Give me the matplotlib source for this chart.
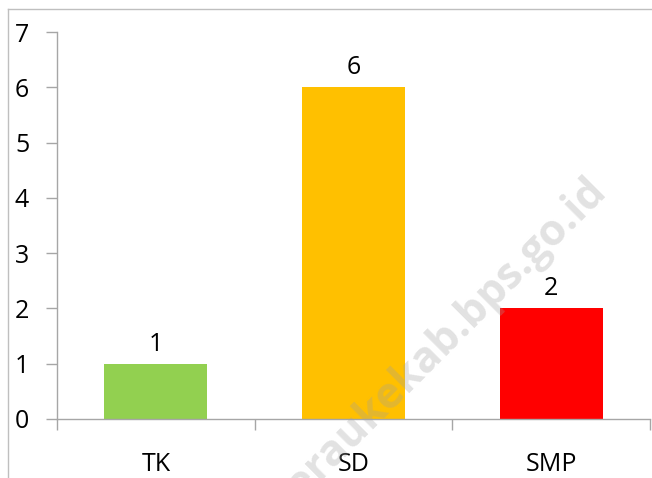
import matplotlib
matplotlib.use("Agg")
import matplotlib.pyplot as plt
from matplotlib.lines import Line2D

categories = ["TK", "SD", "SMP"]
values = [1, 6, 2]
colors = ["#92D050", "#FFC000", "#FF0000"]
yticks = [0, 1, 2, 3, 4, 5, 6, 7]

plt.rcParams['font.family'] = ['Open Sans', 'DejaVu Sans']

W, H = 652, 478
fig = plt.figure(figsize=(W / 100, H / 100), dpi=100)
ax = fig.add_axes([57 / W, 1 - 419 / H, (650 - 57) / W, (419 - 32) / H])

x = list(range(len(categories)))
ax.bar(x, values, width=0.52, color=colors, zorder=2)
for xi, v in zip(x, values):
    ax.annotate(str(v), (xi, v), xytext=(0, 5), textcoords='offset points',
                ha='center', va='bottom', fontsize=18, color='black')

ax.set_xlim(-0.5, len(categories) - 0.5)
ax.set_ylim(0, 7)
ax.set_yticks(yticks)
ax.set_yticklabels([str(t) for t in yticks], fontsize=18)
ax.tick_params(axis='y', length=8, width=1, color='#a6a6a6', pad=12)

ax.set_xticks([i - 0.5 for i in range(len(categories) + 1)])
ax.set_xticklabels([])
ax.set_xticks(x, minor=True)
ax.set_xticklabels(categories, minor=True, fontsize=18)
ax.tick_params(axis='x', which='major', length=8, width=1, color='#a6a6a6')
ax.tick_params(axis='x', which='minor', length=0, pad=24)

for s in ['top', 'right']:
    ax.spines[s].set_visible(False)
for s in ['left', 'bottom']:
    ax.spines[s].set_color('#a6a6a6')
    ax.spines[s].set_linewidth(1)

# chart frame (partially visible)
fig.add_artist(Line2D([8 / W, 8 / W], [0, 1 - 9 / H], transform=fig.transFigure,
                      color='#bfbfbf', lw=1))
fig.add_artist(Line2D([8 / W, 1], [1 - 9 / H, 1 - 9 / H], transform=fig.transFigure,
                      color='#bfbfbf', lw=1))

# watermark
fig.text(608 / W, 1 - 192 / H, "meraukekab.bps.go.id", rotation=45,
         rotation_mode='anchor', ha='right', va='baseline', fontsize=31,
         fontweight='bold', color='#a0a0a0', alpha=0.3, zorder=5,
         family=['Open Sans', 'DejaVu Sans'])

fig.savefig("out.png", dpi=100)
